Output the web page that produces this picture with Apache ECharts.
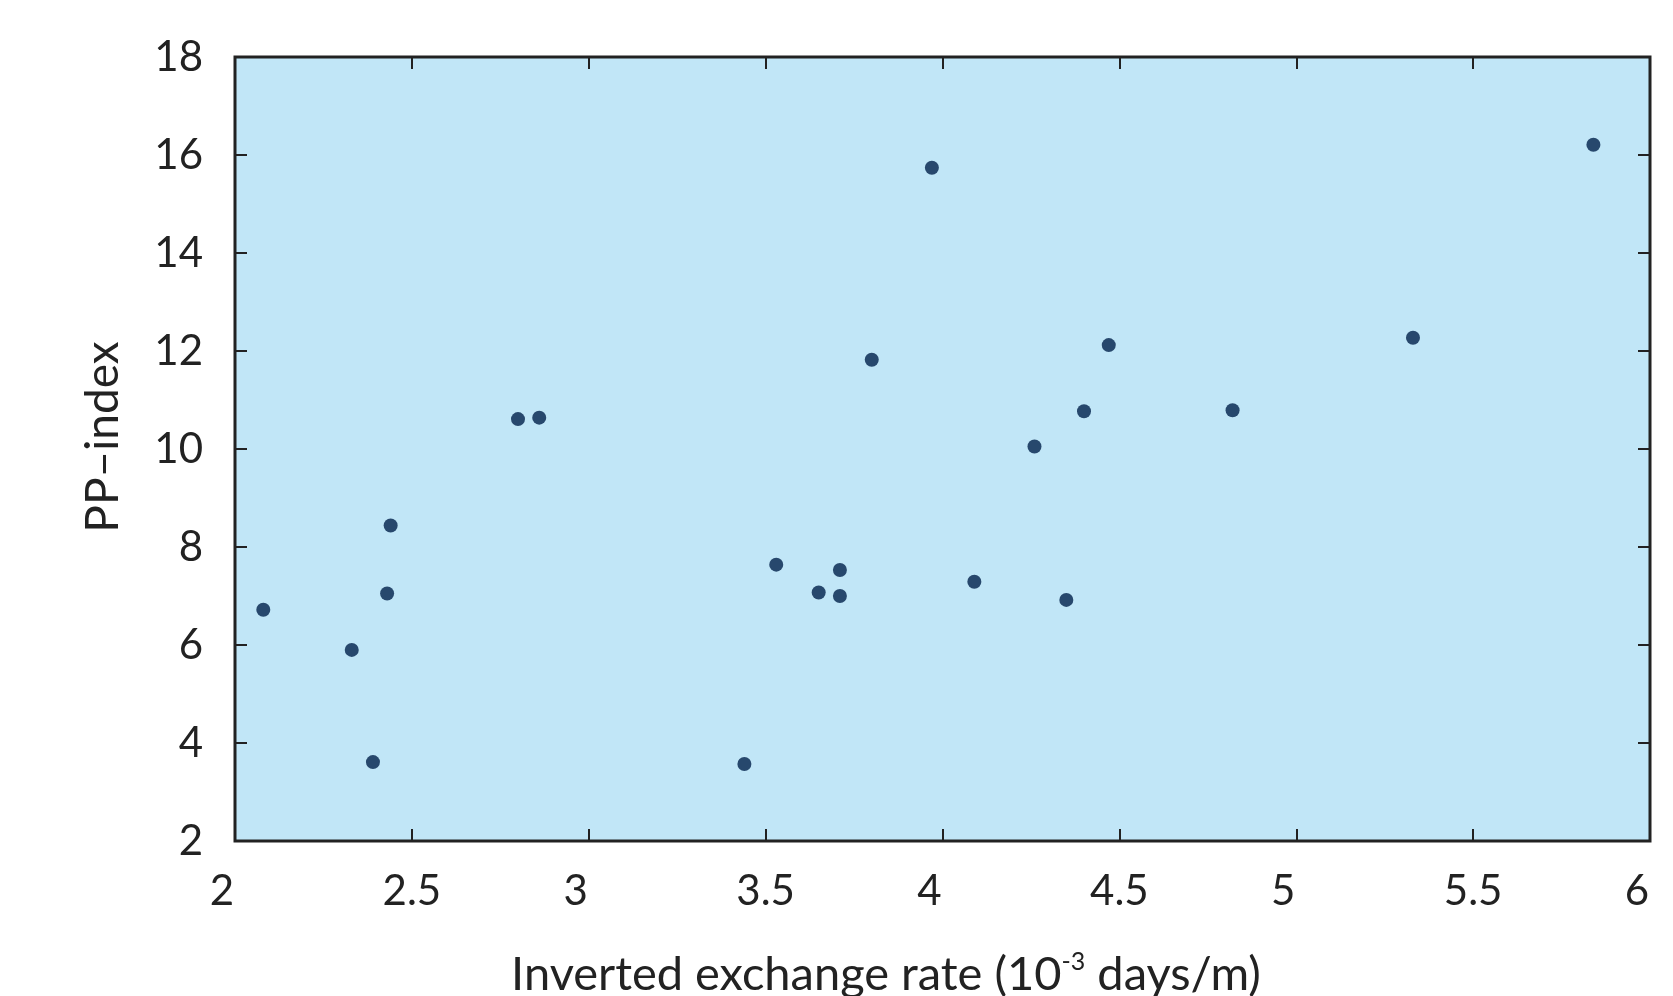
<!DOCTYPE html>
<html>
<head>
<meta charset="utf-8">
<style>
  html, body { margin: 0; padding: 0; background: #fff; }
  #chart { width: 1673px; height: 996px; }
</style>
<script src="https://cdn.jsdelivr.net/npm/echarts@6/dist/echarts.min.js"></script>
</head>
<body>
<div id="chart"></div>
<script>
// inverted exchange rate (10^-3 days/m)
var rateX = [2.08, 2.33, 2.39, 2.43, 2.44, 2.80, 2.86, 3.44, 3.53, 3.65, 3.71,
  3.71, 3.80, 3.97, 4.09, 4.26, 4.35, 4.40, 4.47, 4.82, 5.33, 5.84];
// PP-index
var ppIndex = [6.72, 5.90, 3.61, 7.05, 8.44, 10.61, 10.64, 3.57, 7.64, 7.07, 7.00,
  7.53, 11.82, 15.74, 7.29, 10.05, 6.92, 10.77, 12.12, 10.79, 12.27, 16.21];
var xTicks = { min: 2, max: 6, step: 0.5 };
var yTicks = { min: 2, max: 18, step: 2 };

var points = rateX.map(function (x, i) { return [x, ppIndex[i]]; });

var font = "Lato, 'Open Sans', sans-serif";
var ink = "#222222";

var chart = echarts.init(document.getElementById("chart"));

// ticks shared by all four sides
var tickStyle = { show: true, inside: true, length: 12, lineStyle: { color: ink, width: 2 } };

var option = {
  animation: false,
  grid: {
    left: 235, right: 23, top: 57, bottom: 155,
    show: true,
    backgroundColor: "#c1e6f7",
    borderColor: ink,
    borderWidth: 3
  },
  xAxis: [
    {
      type: "value",
      min: xTicks.min, max: xTicks.max, interval: xTicks.step,
      axisLine: { show: false },
      axisTick: tickStyle,
      splitLine: { show: false },
      axisLabel: {
        margin: 29,
        color: ink,
        fontFamily: font,
        fontSize: 42,
        formatter: function (v) {
          // whole numbers sit a bit left of their tick in the original
          return v % 1 === 0 ? "{i|" + v + "}" : String(v);
        },
        rich: { i: { fontFamily: font, fontSize: 42, color: ink, padding: [0, 26, 0, 0] } }
      }
    },
    {
      type: "value", position: "top",
      min: xTicks.min, max: xTicks.max, interval: xTicks.step,
      axisLine: { show: false },
      axisTick: tickStyle,
      axisLabel: { show: false },
      splitLine: { show: false }
    }
  ],
  yAxis: [
    {
      type: "value",
      min: yTicks.min, max: yTicks.max, interval: yTicks.step,
      axisLine: { show: false },
      axisTick: tickStyle,
      splitLine: { show: false },
      axisLabel: { margin: 32, color: ink, fontFamily: font, fontSize: 42 }
    },
    {
      type: "value", position: "right",
      min: yTicks.min, max: yTicks.max, interval: yTicks.step,
      axisLine: { show: false },
      axisTick: tickStyle,
      axisLabel: { show: false },
      splitLine: { show: false }
    }
  ],
  graphic: [
    {
      type: "text",
      x: 886, y: 975,
      style: {
        text: "{a|Inverted exchange rate (10}{s|-3}{a| days/m)}",
        align: "center",
        verticalAlign: "middle",
        rich: {
          a: { fontFamily: font, fontSize: 47, fill: ink, lineHeight: 52 },
          s: { fontFamily: font, fontSize: 25, fill: ink, lineHeight: 52, verticalAlign: "top", padding: [0, 0, 24, 0] }
        }
      }
    },
    {
      type: "text",
      x: 103, y: 437,
      rotation: Math.PI / 2,
      style: {
        text: "PP\u2013index",
        align: "center",
        verticalAlign: "middle",
        fontFamily: font,
        fontSize: 46,
        fill: ink
      }
    }
  ],
  series: [
    {
      type: "scatter",
      data: points,
      symbol: "circle",
      symbolSize: 14,
      itemStyle: { color: "#00204a" }
    }
  ]
};

chart.setOption(option);
</script>
</body>
</html>
